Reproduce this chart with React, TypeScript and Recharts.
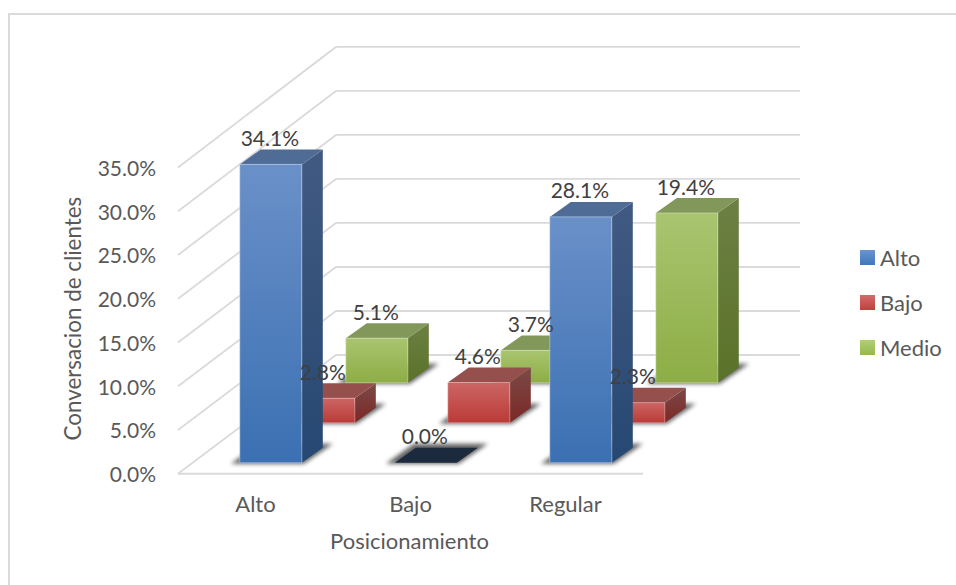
import { Bar, BarChart, CartesianGrid, LabelList, Legend, XAxis, YAxis } from "recharts";

const categories = ["Alto", "Bajo", "Regular"];
const altoValues = [34.1, 0.0, 28.1];
const bajoValues = [2.8, 4.6, 2.3];
const medioValues = [5.1, 3.7, 19.4];
const yTicks = [0, 5, 10, 15, 20, 25, 30, 35];

const data = categories.map((name, i) => ({
  name,
  Alto: altoValues[i],
  Bajo: bajoValues[i],
  Medio: medioValues[i]
}));

const WIDTH = 956;
const HEIGHT = 585;
const GRID_COLOR = "#dadada";
const FONT = "Lato, sans-serif";

// oblique projection of the 3D box: depth of a single bar, and where each series row sits on the floor
const BAR_DEPTH = { dx: 21, dy: 15 };
const ROW_SHIFT = [
  { dx: 14.8, dy: 11 },
  { dx: 67.8, dy: 51 },
  { dx: 120.8, dy: 91 }
];

// walls of the box
const FRONT_X = 178;
const BACK_X = 336;
const BACK_RIGHT_X = 800;
const FRONT_ZERO_Y = 473.75;
const BACK_ZERO_Y = 355;

type SeriesKey = "Alto" | "Bajo" | "Medio";

const faces: Record<SeriesKey, { top: string; edge: string }> = {
  Alto: { top: "#4f6c97", edge: "rgba(200,215,240,0.55)" },
  Bajo: { top: "#95504e", edge: "rgba(240,200,200,0.45)" },
  Medio: { top: "#82985a", edge: "rgba(225,235,195,0.5)" }
};

const legendSwatch: Record<SeriesKey, string> = {
  Alto: "linear-gradient(#6a94cf, #3f77bb)",
  Bajo: "linear-gradient(#d26c6a, #c0403c)",
  Medio: "linear-gradient(#b0cf75, #97b84c)"
};

function wallLine(props: any) {
  const y = props.y1 as number;
  const backY = BACK_ZERO_Y - (FRONT_ZERO_Y - y) * 1.006;
  return (
    <polyline
      key={props.key ?? y}
      points={`${FRONT_X},${y} ${BACK_X},${backY} ${BACK_RIGHT_X},${backY}`}
      fill="none"
      stroke={GRID_COLOR}
      strokeWidth={1.8}
    />
  );
}

function renderBox(series: SeriesKey, row: number) {
  return (props: any) => {
    const { x, y, width, height, value } = props;
    const shift = ROW_SHIFT[row];
    const left = x + shift.dx;
    const right = left + width;
    const top = y - shift.dy;
    const bottom = top + height;
    const { dx, dy } = BAR_DEPTH;
    const isZero = Number(value) === 0;

    return (
      <g>
        <polygon
          points={`${left - 9},${bottom + 1} ${right + 2},${bottom + 1} ${right + 31},${bottom - 19} ${left + 19},${bottom - 19}`}
          fill="#000"
          fillOpacity={0.62}
          filter="url(#floorShadow)"
        />
        {isZero ? (
          <polygon
            points={`${left},${top} ${right},${top} ${right + dx},${top - dy} ${left + dx},${top - dy}`}
            fill="#1b2a3c"
          />
        ) : (
          <>
            <polygon
              points={`${right},${top} ${right + dx},${top - dy} ${right + dx},${bottom - dy} ${right},${bottom}`}
              fill={`url(#side${series})`}
            />
            <polygon
              points={`${left},${top} ${right},${top} ${right + dx},${top - dy} ${left + dx},${top - dy}`}
              fill={faces[series].top}
            />
            <rect
              x={left}
              y={top}
              width={width}
              height={height}
              fill={`url(#front${series})`}
              stroke={faces[series].edge}
              strokeWidth={1}
            />
          </>
        )}
      </g>
    );
  };
}

function renderValue(row: number) {
  return (props: any) => {
    const { x, y, width, value } = props;
    const shift = ROW_SHIFT[row];
    return (
      <text
        x={x + shift.dx + width / 2 - 1}
        y={y - shift.dy - 27}
        textAnchor="middle"
        dominantBaseline="central"
        fontFamily={FONT}
        fontSize={21}
        fill="#404040"
      >
        {Number(value).toFixed(1)}%
      </text>
    );
  };
}

function renderLegend(props: any) {
  const items = (props.payload ?? []).filter((item: any) => item.type !== "none");
  return (
    <div style={{ fontFamily: FONT, fontSize: 22, color: "#595959" }}>
      {items.map((item: any) => (
        <div key={item.value} style={{ display: "flex", alignItems: "center", height: 45 }}>
          <span style={{ width: 15, height: 15, marginRight: 5, background: legendSwatch[item.value as SeriesKey] }} />
          {item.value}
        </div>
      ))}
    </div>
  );
}

function gradient(id: string, from: string, to: string) {
  return (
    <linearGradient id={id} x1="0" y1="0" x2="0" y2="1">
      <stop offset="0%" stopColor={from} />
      <stop offset="100%" stopColor={to} />
    </linearGradient>
  );
}

const noMark = () => <g />;

export default function App() {
  return (
    <div
      style={{
        position: "absolute",
        left: 0,
        top: 0,
        width: WIDTH,
        height: HEIGHT,
        background: "#fff"
      }}
    >
      {/* only the top and left edges of the frame are in view */}
      <div
        style={{
          position: "absolute",
          left: 8,
          top: 13,
          right: 0,
          bottom: 0,
          borderLeft: `2px solid ${GRID_COLOR}`,
          borderTop: `2px solid ${GRID_COLOR}`
        }}
      />
      <BarChart
        width={WIDTH}
        height={HEIGHT}
        data={data}
        barSize={62}
        barGap={-62}
        margin={{ top: 167.5, right: 313, bottom: 0, left: 0 }}
        style={{ position: "absolute", left: 0, top: 0 }}
      >
        <defs>
          <filter id="floorShadow" x="-30%" y="-60%" width="160%" height="220%">
            <feGaussianBlur stdDeviation="2" />
          </filter>
          {gradient("frontAlto", "#6a90c8", "#3b70b2")}
          {gradient("sideAlto", "#425a82", "#264872")}
          {gradient("frontBajo", "#cb6664", "#bb3a37")}
          {gradient("sideBajo", "#7a4a48", "#7c2825")}
          {gradient("frontMedio", "#a9c570", "#8dad45")}
          {gradient("sideMedio", "#6c8044", "#5a7228")}
        </defs>
        <CartesianGrid vertical={false} horizontal={wallLine} />
        <XAxis
          dataKey="name"
          axisLine={{ stroke: GRID_COLOR, strokeWidth: 1.8 }}
          tickLine={false}
          tickMargin={17}
          tick={{ fontFamily: FONT, fontSize: 22, fill: "#595959" }}
          label={{
            value: "Posicionamiento",
            position: "insideTop",
            offset: 60,
            dx: -1,
            style: { fontFamily: FONT, fontSize: 22, fill: "#595959" }
          }}
          height={111.25}
        />
        <YAxis
          domain={[0, 35]}
          ticks={yTicks}
          interval={0}
          width={178}
          axisLine={false}
          tickLine={false}
          tickSize={0}
          tickMargin={22}
          tickFormatter={(v: number) => `${v.toFixed(1)}%`}
          tick={{ fontFamily: FONT, fontSize: 21, fill: "#595959", dy: 1 }}
          label={{
            value: "Conversacion de clientes",
            angle: -90,
            position: "insideLeft",
            offset: 73,
            dy: -2,
            style: { fontFamily: FONT, fontSize: 22.4, fill: "#595959", textAnchor: "middle" }
          }}
        />
        <Legend
          layout="vertical"
          align="center"
          verticalAlign="middle"
          content={renderLegend}
          wrapperStyle={{ left: 860, top: 235, width: 96 }}
        />
        {/* back row first so the front bars cover it */}
        <Bar dataKey="Medio" isAnimationActive={false} shape={renderBox("Medio", 2)} />
        <Bar dataKey="Bajo" isAnimationActive={false} shape={renderBox("Bajo", 1)} />
        <Bar dataKey="Alto" isAnimationActive={false} shape={renderBox("Alto", 0)} />
        {/* value labels sit above every box */}
        <Bar dataKey="Medio" legendType="none" isAnimationActive={false} shape={noMark}>
          <LabelList dataKey="Medio" content={renderValue(2)} />
        </Bar>
        <Bar dataKey="Bajo" legendType="none" isAnimationActive={false} shape={noMark}>
          <LabelList dataKey="Bajo" content={renderValue(1)} />
        </Bar>
        <Bar dataKey="Alto" legendType="none" isAnimationActive={false} shape={noMark}>
          <LabelList dataKey="Alto" content={renderValue(0)} />
        </Bar>
      </BarChart>
    </div>
  );
}
